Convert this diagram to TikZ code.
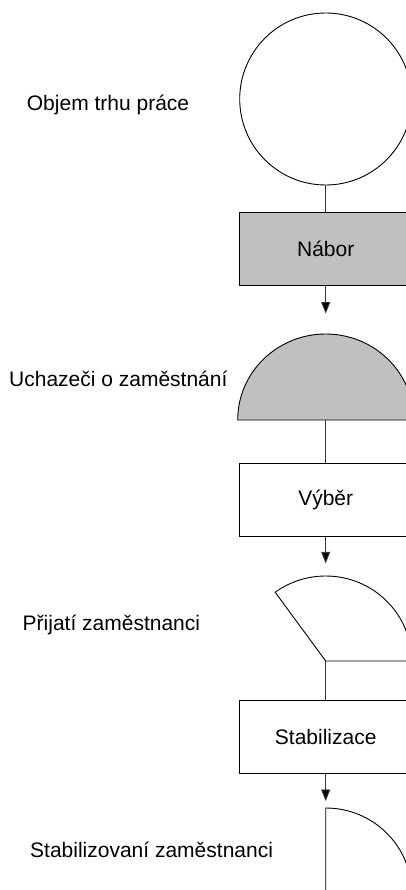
\documentclass[tikz,border=0pt]{standalone}
\usepackage{fontspec}
\setmainfont{Liberation Sans}
\usetikzlibrary{arrows.meta}
\definecolor{silverfill}{RGB}{192,192,192}
\begin{document}
\begin{tikzpicture}[x=1pt,y=-1pt,
  every node/.style={font=\fontsize{21}{25}\selectfont},
  outline/.style={draw=black,line width=0.9pt},
  stepbox/.style={outline,rectangle,minimum width=173pt,minimum height=73pt,inner sep=0pt},
  label/.style={anchor=base west,inner sep=0pt},
  link/.style={draw=black!80,line width=0.9pt},
  flow/.style={link,-{Triangle[length=11.5pt,width=9pt,fill=black]}}]
\useasboundingbox (0,0) rectangle (406,890);
\clip (0,0) rectangle (406,890);

% pool of the labour market: full circle
\node[outline,circle,minimum size=172pt,inner sep=0pt] (pool) at (325.7,99) {};
\node[label] (lpool) at (26.7,110.7) {Objem trhu práce};

% recruitment
\node[stepbox,fill=silverfill] (nabor) at (325.7,249.3) {Nábor};
\coordinate (a1) at (325.7,313.5);

% applicants: half of the circle
\coordinate (c2) at (325.7,420);
\filldraw[outline,fill=silverfill] (c2) -- ++(88,0) arc[start angle=0,end angle=180,x radius=88,y radius=-86] -- cycle;
\node[label] (lappl) at (9,386.7) {Uchazeči o zaměstnání};

% selection
\node[stepbox] (vyber) at (325.7,500.3) {Výběr};
\coordinate (a2) at (325.7,563.3);

% hired: 35 % sector
\coordinate (c3) at (325.7,661);
\draw[outline] (c3) -- ++(86,0) arc[start angle=0,end angle=126,x radius=86,y radius=-85] -- cycle;
\node[label] (lhired) at (22.5,630.7) {Přijatí zaměstnanci};

% stabilisation
\node[stepbox] (stab) at (325.7,737) {Stabilizace};
\coordinate (a3) at (325.7,801);

% stabilised employees: 25 % sector
\coordinate (c4) at (325.7,893);
\draw[outline] (c4) -- ++(86,0) arc[start angle=0,end angle=90,x radius=86,y radius=-85] -- cycle;
\node[label] (lstab) at (30,857) {Stabilizovaní zaměstnanci};

% connectors
\draw[link] (pool.south) -- (nabor.north);
\draw[flow] (nabor.south) -- (a1);
\draw[link] (c2) -- (vyber.north);
\draw[flow] (vyber.south) -- (a2);
\draw[link] (c3) -- (stab.north);
\draw[flow] (stab.south) -- (a3);
\end{tikzpicture}
\end{document}
